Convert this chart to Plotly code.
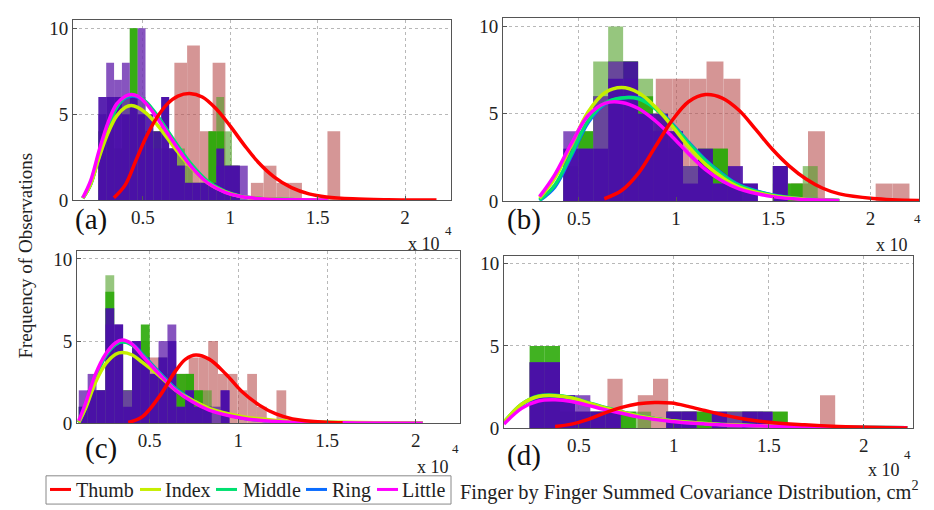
import plotly.graph_objects as go

# ---------------- DATA (values in units of 10^4 cm^2) ----------------
FINGERS = ["Thumb", "Index", "Middle", "Ring", "Little"]
X_TICK_VALS = [0.5, 1, 1.5, 2]
X_TICK_TEXT = ["0.5", "1", "1.5", "2"]
Y_TICK_VALS = [0, 5, 10]
PANEL_LABELS = ["(a)", "(b)", "(c)", "(d)"]

# histogram bins: (first bin edge, bin width)
A_THUMB_BINS = (0.68, 0.073)
A_THUMB_COUNTS = [8, 9, 4, 8, 2, 0, 1, 2, 1, 1, 0, 0, 4]
A_FINGER_BINS = (0.245, 0.045)
A_INDEX_COUNTS = [4, 5, 3, 6, 10, 6, 4, 4, 3, 3, 3, 2, 1, 1, 4, 6, 4, 1, 0]
A_MIDDLE_COUNTS = [4, 4, 3, 6, 10, 5, 4, 4, 3, 3, 2, 1, 1, 1, 4, 4, 2, 2, 0]
A_RING_COUNTS = [6, 6, 6, 5, 6, 5, 5, 4, 6, 3, 2, 1, 1, 1, 1, 3, 2, 2, 0]
A_LITTLE_COUNTS = [5, 8, 7, 8, 6, 10, 4, 3, 6, 3, 2, 1, 1, 1, 1, 2, 2, 2, 2]

B_THUMB_BINS = (0.635, 0.087)
B_THUMB_COUNTS = [1, 2, 3, 7, 7, 7, 8, 7, 0, 0, 0, 1, 4, 0, 0, 0, 1, 1]
B_FINGER_BINS = (0.42, 0.077)
B_INDEX_COUNTS = [1, 4, 8, 10, 8, 7, 5, 3, 2, 2, 3, 1, 0, 0, 1, 1, 2]
B_MIDDLE_COUNTS = [2, 4, 6, 8, 8, 6, 4, 3, 2, 3, 3, 1, 0, 0, 2, 1, 0]
B_RING_COUNTS = [3, 3, 3, 7, 8, 5, 5, 4, 1, 3, 1, 2, 1, 0, 2, 0, 0]
B_LITTLE_COUNTS = [4, 3, 6, 8, 7, 5, 4, 4, 2, 2, 1, 1, 1, 0, 2, 0, 0]

C_THUMB_BINS = (0.39, 0.055)
C_THUMB_COUNTS = [1, 1, 4, 2, 3, 3, 4, 4, 5, 3, 3, 2, 3, 1, 0, 2]
C_FINGER_BINS = (0.10, 0.05)
C_INDEX_COUNTS = [1, 2, 2, 9, 4, 2, 4, 5, 3, 3, 3, 2, 3, 2, 2, 1, 0]
C_MIDDLE_COUNTS = [1, 2, 2, 8, 5, 2, 4, 6, 3, 4, 3, 3, 3, 2, 1, 0, 0]
C_RING_COUNTS = [1, 2, 2, 7, 6, 1, 5, 4, 3, 4, 5, 1, 2, 1, 1, 0, 2]
C_LITTLE_COUNTS = [2, 3, 2, 6, 6, 2, 5, 4, 3, 5, 6, 1, 2, 1, 1, 1, 2]

D_THUMB_BINS = (0.65, 0.08)
D_THUMB_COUNTS = [3, 0, 2, 3, 0, 1, 1, 0, 0, 0, 0, 0, 0, 0, 2]
D_FINGER_BINS = (0.24, 0.08)
D_INDEX_COUNTS = [4, 4, 1, 1, 1, 1, 1, 1, 0, 1, 1, 1, 1, 1, 1, 1, 1]
D_MIDDLE_COUNTS = [5, 5, 1, 1, 1, 1, 1, 0, 0, 1, 1, 1, 0, 1, 1, 1, 1]
D_RING_COUNTS = [4, 4, 2, 1, 1, 1, 0, 0, 0, 1, 1, 0, 1, 0, 1, 1, 0]
D_LITTLE_COUNTS = [4, 4, 2, 2, 1, 1, 0, 0, 0, 1, 1, 0, 1, 1, 1, 1, 0]

# fitted distribution curves
A_THUMB_FIT_X = [0.334, 0.40, 0.46, 0.52, 0.58, 0.64, 0.70, 0.767, 0.84, 0.92, 1.0, 1.08, 1.16, 1.25, 1.35, 1.45, 1.55, 1.7, 1.9, 2.18]
A_THUMB_FIT_Y = [0.13, 0.9, 2.3, 3.7, 4.8, 5.6, 6.05, 6.2, 6.0, 5.3, 4.3, 3.2, 2.2, 1.35, 0.72, 0.36, 0.18, 0.07, 0.02, 0.0]
A_FIT_X = [0.156, 0.20, 0.25, 0.30, 0.35, 0.40, 0.433, 0.47, 0.52, 0.58, 0.64, 0.70, 0.78, 0.87, 0.97, 1.06, 1.20, 1.40, 1.56]
A_INDEX_FIT = [0.1, 0.9, 2.5, 3.9, 4.9, 5.4, 5.5, 5.4, 5.05, 4.4, 3.6, 2.8, 1.85, 1.0, 0.48, 0.21, 0.07, 0.01, 0.0]
A_MIDDLE_FIT = [0.1, 0.9, 2.6, 4.2, 5.4, 6.0, 6.1, 6.05, 5.7, 4.95, 4.05, 3.15, 2.05, 1.1, 0.5, 0.22, 0.07, 0.01, 0.0]
A_RING_FIT = [0.1, 0.9, 2.6, 4.2, 5.4, 5.95, 6.05, 6.0, 5.65, 4.9, 4.0, 3.1, 2.0, 1.05, 0.48, 0.21, 0.07, 0.01, 0.0]
A_LITTLE_FIT = [0.13, 1.1, 2.9, 4.5, 5.6, 6.05, 6.15, 6.05, 5.6, 4.8, 3.9, 3.0, 1.9, 1.0, 0.45, 0.2, 0.06, 0.01, 0.0]

B_THUMB_FIT_X = [0.631, 0.72, 0.807, 0.893, 0.979, 1.066, 1.152, 1.238, 1.324, 1.41, 1.497, 1.583, 1.669, 1.755, 1.841, 2.014, 2.255]
B_THUMB_FIT_Y = [0.13, 0.6, 1.6, 3.1, 4.6, 5.7, 6.1, 5.9, 5.2, 4.1, 2.95, 2.0, 1.26, 0.73, 0.41, 0.15, 0.03]
B_FIT_X = [0.298, 0.376, 0.462, 0.548, 0.634, 0.72, 0.807, 0.893, 0.979, 1.066, 1.152, 1.238, 1.324, 1.497, 1.669, 1.84]
B_INDEX_FIT = [0.17, 1.3, 3.2, 5.1, 6.2, 6.5, 6.2, 5.4, 4.3, 3.1, 2.1, 1.35, 0.8, 0.3, 0.1, 0.03]
B_MIDDLE_FIT = [0.05, 0.9, 2.7, 4.6, 5.6, 5.9, 5.85, 5.3, 4.4, 3.3, 2.3, 1.5, 0.9, 0.33, 0.1, 0.03]
B_RING_FIT = [0.03, 0.8, 2.6, 4.5, 5.55, 5.9, 5.9, 5.35, 4.45, 3.35, 2.35, 1.55, 0.92, 0.34, 0.11, 0.03]
B_LITTLE_FIT = [0.25, 1.5, 3.3, 4.9, 5.6, 5.65, 5.3, 4.6, 3.7, 2.7, 1.8, 1.15, 0.7, 0.25, 0.08, 0.02]

C_THUMB_FIT_X = [0.379, 0.459, 0.553, 0.647, 0.703, 0.76, 0.835, 0.929, 1.023, 1.118, 1.212, 1.306, 1.494, 1.588]
C_THUMB_FIT_Y = [0.05, 0.4, 1.6, 3.2, 3.9, 4.15, 3.9, 3.0, 1.9, 1.1, 0.56, 0.26, 0.06, 0.03]
C_FIT_X = [0.10, 0.138, 0.195, 0.251, 0.308, 0.346, 0.402, 0.459, 0.553, 0.647, 0.741, 0.835, 1.023, 1.212, 1.588, 2.04]
C_INDEX_FIT = [0.05, 0.9, 2.5, 3.6, 4.2, 4.3, 4.15, 3.7, 2.9, 2.0, 1.4, 0.9, 0.4, 0.17, 0.05, 0.01]
C_MIDDLE_FIT = [0.05, 1.0, 2.8, 4.1, 4.8, 4.95, 4.75, 4.15, 3.05, 2.05, 1.35, 0.85, 0.32, 0.11, 0.03, 0.0]
C_RING_FIT = [0.05, 1.0, 2.8, 4.1, 4.8, 4.95, 4.8, 4.2, 3.1, 2.1, 1.4, 0.85, 0.32, 0.11, 0.03, 0.0]
C_LITTLE_FIT = [0.15, 1.2, 3.0, 4.2, 4.9, 5.06, 4.8, 4.1, 3.0, 2.0, 1.3, 0.8, 0.3, 0.1, 0.02, 0.0]

D_THUMB_FIT_X = [0.374, 0.461, 0.549, 0.637, 0.725, 0.812, 0.9, 0.988, 1.075, 1.163, 1.251, 1.339, 1.514, 1.689, 1.865, 2.04, 2.23]
D_THUMB_FIT_Y = [0.1, 0.24, 0.53, 0.93, 1.26, 1.48, 1.56, 1.52, 1.32, 1.07, 0.83, 0.61, 0.34, 0.2, 0.1, 0.04, 0.01]
D_FIT_X = [0.105, 0.198, 0.286, 0.374, 0.461, 0.549, 0.637, 0.725, 0.812, 0.988, 1.163, 1.339, 1.689, 2.23]
D_INDEX_FIT = [0.35, 1.45, 1.92, 1.97, 1.83, 1.53, 1.23, 0.98, 0.74, 0.44, 0.28, 0.18, 0.08, 0.02]
D_MIDDLE_FIT = [0.35, 1.45, 1.95, 2.0, 1.85, 1.55, 1.25, 0.99, 0.75, 0.44, 0.28, 0.18, 0.08, 0.02]
D_RING_FIT = [0.3, 1.4, 1.9, 1.95, 1.8, 1.52, 1.22, 0.97, 0.73, 0.43, 0.27, 0.17, 0.08, 0.02]
D_LITTLE_FIT = [0.25, 1.2, 1.65, 1.72, 1.62, 1.38, 1.12, 0.9, 0.68, 0.4, 0.25, 0.16, 0.07, 0.02]

# ---------------- STYLE ----------------
W, H = 934, 510
SERIF = "Times New Roman"
LINE_COLORS = {"Thumb": "#ff0000", "Index": "#c6ee00", "Middle": "#00e070",
               "Ring": "#0a6cff", "Little": "#ff00ff"}
BAR_STYLE = {  # (colour, opacity) drawing order matters
    "Thumb": ("rgb(185,80,80)", 0.6),
    "Index": ("rgb(80,160,40)", 0.6),
    "Middle": ("rgb(45,170,10)", 0.9),
    "Little": ("rgb(115,55,180)", 0.85),
    "Ring": ("rgb(72,12,168)", 0.9),
}

def px(x):
    return x / W

def py(y):
    return (H - y) / H

def serif_font(size):
    return dict(family=SERIF, size=size, color="#222")

# plot areas in pixels: (left, right, top, bottom), x range
PANELS = [
    dict(box=(65, 443, 10, 195), xr=[0.10, 2.263]),
    dict(box=(495, 911, 8, 196), xr=[0.11, 2.25]),
    dict(box=(69, 452, 247, 424), xr=[0.09, 2.25]),
    dict(box=(496, 905, 252, 429), xr=[0.105, 2.26]),
]

panel_data = [
    (A_THUMB_BINS, A_THUMB_COUNTS, A_FINGER_BINS,
     {"Index": A_INDEX_COUNTS, "Middle": A_MIDDLE_COUNTS, "Ring": A_RING_COUNTS, "Little": A_LITTLE_COUNTS},
     A_THUMB_FIT_X, A_THUMB_FIT_Y, A_FIT_X,
     {"Index": A_INDEX_FIT, "Middle": A_MIDDLE_FIT, "Ring": A_RING_FIT, "Little": A_LITTLE_FIT}),
    (B_THUMB_BINS, B_THUMB_COUNTS, B_FINGER_BINS,
     {"Index": B_INDEX_COUNTS, "Middle": B_MIDDLE_COUNTS, "Ring": B_RING_COUNTS, "Little": B_LITTLE_COUNTS},
     B_THUMB_FIT_X, B_THUMB_FIT_Y, B_FIT_X,
     {"Index": B_INDEX_FIT, "Middle": B_MIDDLE_FIT, "Ring": B_RING_FIT, "Little": B_LITTLE_FIT}),
    (C_THUMB_BINS, C_THUMB_COUNTS, C_FINGER_BINS,
     {"Index": C_INDEX_COUNTS, "Middle": C_MIDDLE_COUNTS, "Ring": C_RING_COUNTS, "Little": C_LITTLE_COUNTS},
     C_THUMB_FIT_X, C_THUMB_FIT_Y, C_FIT_X,
     {"Index": C_INDEX_FIT, "Middle": C_MIDDLE_FIT, "Ring": C_RING_FIT, "Little": C_LITTLE_FIT}),
    (D_THUMB_BINS, D_THUMB_COUNTS, D_FINGER_BINS,
     {"Index": D_INDEX_COUNTS, "Middle": D_MIDDLE_COUNTS, "Ring": D_RING_COUNTS, "Little": D_LITTLE_COUNTS},
     D_THUMB_FIT_X, D_THUMB_FIT_Y, D_FIT_X,
     {"Index": D_INDEX_FIT, "Middle": D_MIDDLE_FIT, "Ring": D_RING_FIT, "Little": D_LITTLE_FIT}),
]

fig = go.Figure()
layout = {}

def bar_trace(bins, counts, name, xa, ya):
    start, width = bins
    xs = [start + (i + 0.5) * width for i in range(len(counts))]
    col, op = BAR_STYLE[name]
    return go.Bar(x=xs, y=counts, width=width, marker=dict(color=col, line=dict(width=0)),
                  opacity=op, xaxis=xa, yaxis=ya, showlegend=False, name=name,
                  hoverinfo="x+y+name")

for i, (p, d) in enumerate(zip(PANELS, panel_data)):
    n = "" if i == 0 else str(i + 1)
    xa, ya = "x" + n, "y" + n
    l, r, t, b = p["box"]
    axis_common = dict(showline=True, mirror=True, linecolor="#555", linewidth=1,
                       showgrid=True, gridcolor="#b8b8b8", griddash="dot", gridwidth=1,
                       zeroline=False, ticks="inside", ticklen=4, tickcolor="#555",
                       tickfont=serif_font(19))
    layout["xaxis" + n] = dict(domain=[px(l), px(r)], range=p["xr"], anchor=ya,
                               tickvals=X_TICK_VALS, ticktext=X_TICK_TEXT, **axis_common)
    layout["yaxis" + n] = dict(domain=[py(b), py(t)], range=[0, 10.5], anchor=xa,
                               tickvals=Y_TICK_VALS, **axis_common)

    tb, tc, fb, fcounts, tfx, tfy, ffx, ffits = d
    fig.add_trace(bar_trace(tb, tc, "Thumb", xa, ya))
    for name in ["Index", "Middle", "Little", "Ring"]:
        fig.add_trace(bar_trace(fb, fcounts[name], name, xa, ya))
    # curves
    for name in ["Ring", "Middle", "Index", "Little"]:
        fig.add_trace(go.Scatter(x=ffx, y=ffits[name], mode="lines",
                                 line=dict(color=LINE_COLORS[name], width=3.5, shape="spline"),
                                 xaxis=xa, yaxis=ya, showlegend=False, name=name))
    fig.add_trace(go.Scatter(x=tfx, y=tfy, mode="lines",
                             line=dict(color=LINE_COLORS["Thumb"], width=3.5, shape="spline"),
                             xaxis=xa, yaxis=ya, showlegend=False, name="Thumb"))

annotations = []
shapes = []

# panel labels
for lab, (x, y) in zip(PANEL_LABELS, [(83, 215), (516, 215), (93, 450), (516, 457)]):
    annotations.append(dict(text=lab, x=px(x), y=py(y), xref="paper", yref="paper", showarrow=False,
                            font=dict(family=SERIF, size=29, color="#111"), xanchor="center", yanchor="middle"))
# x 10^4 labels
for (x, y), (sx, sy) in zip([(416, 240), (884, 241), (425, 469), (876, 472)],
                            [(440, 226), (909, 214), (447, 450), (899, 456)]):
    annotations.append(dict(text="x 10", x=px(x), y=py(y), xref="paper", yref="paper", showarrow=False,
                            font=serif_font(18), xanchor="center", yanchor="middle"))
    annotations.append(dict(text="4", x=px(sx), y=py(sy), xref="paper", yref="paper", showarrow=False,
                            font=serif_font(13), xanchor="center", yanchor="middle"))

# axis titles
annotations.append(dict(text="Frequency of Observations", x=px(18), y=py(252), xref="paper", yref="paper",
                        showarrow=False, textangle=-90, font=serif_font(19),
                        xanchor="center", yanchor="middle"))
annotations.append(dict(text="Finger by Finger Summed Covariance Distribution, cm<sup>2</sup>",
                        x=px(450), y=py(493), xref="paper", yref="paper", showarrow=False,
                        font=serif_font(20.4), xanchor="left", yanchor="middle"))

# manual legend
shapes.append(dict(type="rect", xref="paper", yref="paper", x0=px(38), x1=px(443), y0=py(507), y1=py(478),
                   line=dict(color="#888", width=1), fillcolor="rgba(0,0,0,0)"))
legend_pos = [(42, 66), (132, 155), (208, 233), (298, 322), (369, 392)]
for name, (lx, tx) in zip(FINGERS, legend_pos):
    shapes.append(dict(type="line", xref="paper", yref="paper", x0=px(lx), x1=px(lx + 21), y0=py(492), y1=py(492),
                       line=dict(color=LINE_COLORS[name], width=3)))
    annotations.append(dict(text=name, x=px(tx), y=py(493), xref="paper", yref="paper", showarrow=False,
                            font=serif_font(20), xanchor="left", yanchor="middle"))

fig.update_layout(width=W, height=H, margin=dict(l=0, r=0, t=0, b=0), barmode="overlay",
                  paper_bgcolor="white", plot_bgcolor="white", showlegend=False,
                  font=dict(family=SERIF),
                  annotations=annotations, shapes=shapes, **layout)

fig.write_html("out.html")
